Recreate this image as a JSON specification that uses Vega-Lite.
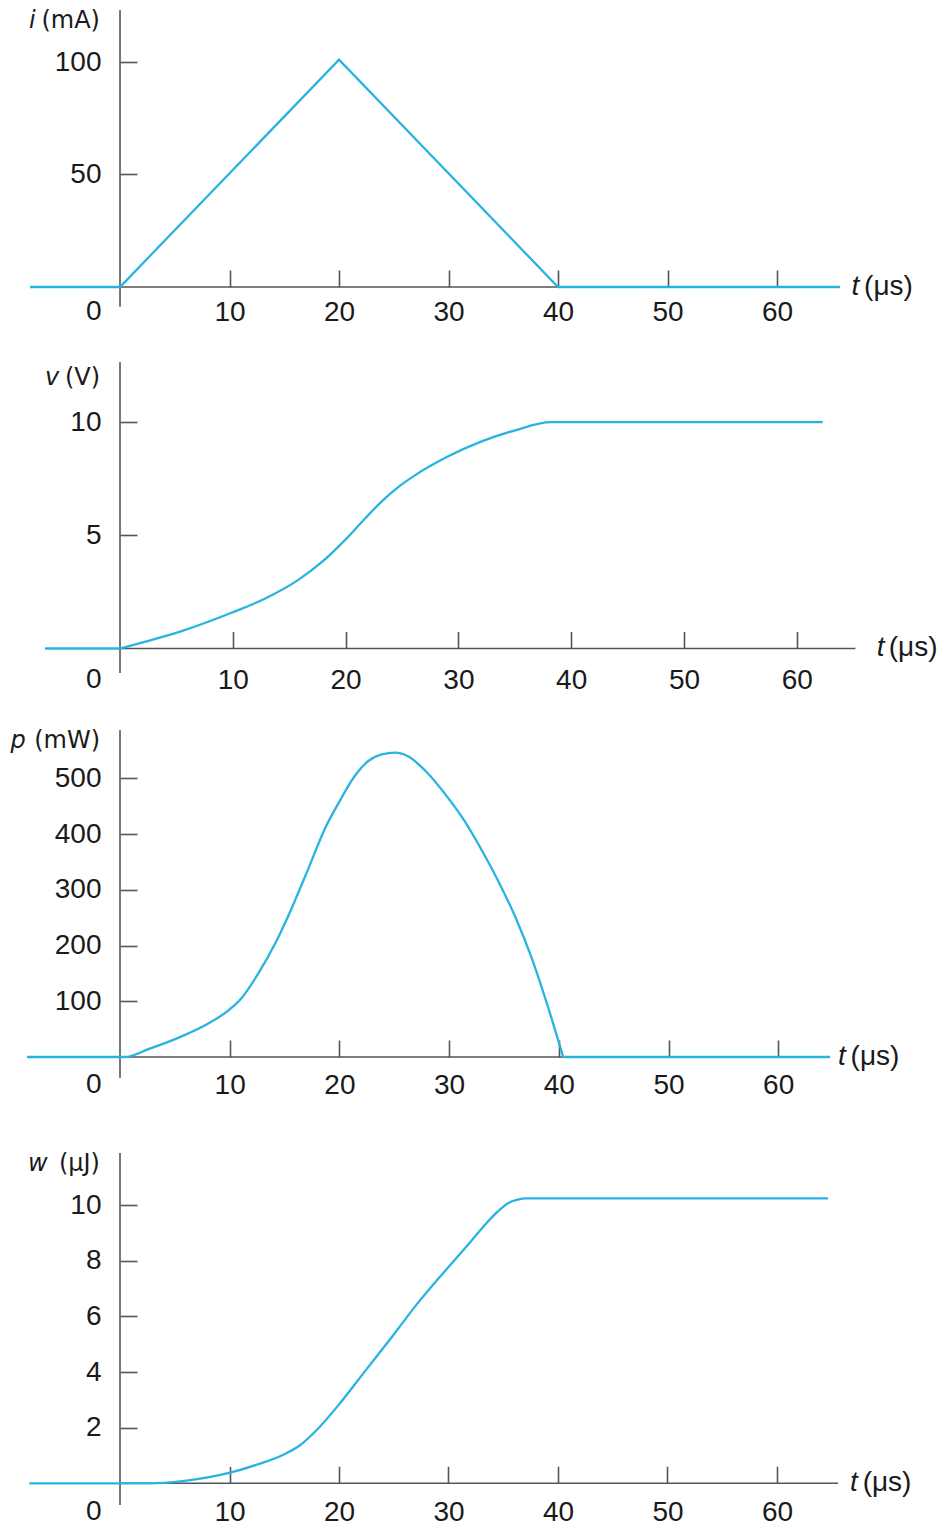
{
  "$schema": "https://vega.github.io/schema/vega-lite/v6.json",
  "padding": 0,
  "spacing": 0,
  "background": "white",
  "config": {
    "view": {"stroke": null},
    "axis": {
      "domain": false,
      "grid": false,
      "ticks": true,
      "tickSize": -17,
      "tickColor": "#555555",
      "tickWidth": 1.6,
      "labelFont": "Liberation Sans",
      "labelFontSize": 28,
      "labelColor": "#1a1a1a",
      "labelFlush": false,
      "labelOverlap": false,
      "labelBound": false
    }
  },
  "datasets": {
    "axes": [
      {"p": 1, "t": 0, "t2": 0, "y": -8.75, "y2": 123.1},
      {"p": 1, "t": 0, "t2": 65.75, "y": 0, "y2": 0},
      {"p": 2, "t": 0, "t2": 0, "y": -1.08, "y2": 12.66},
      {"p": 2, "t": 0, "t2": 65.2, "y": 0, "y2": 0},
      {"p": 3, "t": 0, "t2": 0, "y": -37.7, "y2": 586.6},
      {"p": 3, "t": 0, "t2": 64.72, "y": 0, "y2": 0},
      {"p": 4, "t": 0, "t2": 0, "y": -0.78, "y2": 11.88},
      {"p": 4, "t": 0, "t2": 65.57, "y": 0, "y2": 0}
    ],
    "curves": [
      {"p": 1, "s": "a", "t": -8.22, "y": 0},
      {"p": 1, "s": "a", "t": 0, "y": 0},
      {"p": 1, "s": "a", "t": 20, "y": 101},
      {"p": 1, "s": "a", "t": 40, "y": 0},
      {"p": 1, "s": "a", "t": 65.75, "y": 0},

      {"p": 2, "s": "pre", "t": -6.65, "y": 0},
      {"p": 2, "s": "pre", "t": 0, "y": 0},
      {"p": 2, "s": "main", "t": 0, "y": 0},
      {"p": 2, "s": "main", "t": 2.51, "y": 0.34},
      {"p": 2, "s": "main", "t": 5.46, "y": 0.77},
      {"p": 2, "s": "main", "t": 9.94, "y": 1.59},
      {"p": 2, "s": "main", "t": 12.83, "y": 2.2},
      {"p": 2, "s": "main", "t": 15.78, "y": 3.02},
      {"p": 2, "s": "main", "t": 17.85, "y": 3.8},
      {"p": 2, "s": "main", "t": 19.94, "y": 4.79},
      {"p": 2, "s": "main", "t": 21.68, "y": 5.72},
      {"p": 2, "s": "main", "t": 23.16, "y": 6.48},
      {"p": 2, "s": "main", "t": 24.63, "y": 7.12},
      {"p": 2, "s": "main", "t": 26.11, "y": 7.64},
      {"p": 2, "s": "main", "t": 29.06, "y": 8.48},
      {"p": 2, "s": "main", "t": 32.01, "y": 9.14},
      {"p": 2, "s": "main", "t": 34.96, "y": 9.63},
      {"p": 2, "s": "main", "t": 38.2, "y": 10.0},
      {"p": 2, "s": "main", "t": 62.3, "y": 10.0},

      {"p": 3, "s": "pre", "t": -8.48, "y": 0},
      {"p": 3, "s": "pre", "t": 0, "y": 0},
      {"p": 3, "s": "main", "t": 0, "y": 0},
      {"p": 3, "s": "main", "t": 0.46, "y": 0},
      {"p": 3, "s": "main", "t": 2.58, "y": 14},
      {"p": 3, "s": "main", "t": 5.62, "y": 37},
      {"p": 3, "s": "main", "t": 8.05, "y": 60},
      {"p": 3, "s": "main", "t": 9.97, "y": 85},
      {"p": 3, "s": "main", "t": 11.09, "y": 106},
      {"p": 3, "s": "main", "t": 12.61, "y": 150},
      {"p": 3, "s": "main", "t": 14.13, "y": 203},
      {"p": 3, "s": "main", "t": 15.65, "y": 267},
      {"p": 3, "s": "main", "t": 17.17, "y": 338},
      {"p": 3, "s": "main", "t": 18.69, "y": 410},
      {"p": 3, "s": "main", "t": 19.91, "y": 455},
      {"p": 3, "s": "main", "t": 21.43, "y": 505},
      {"p": 3, "s": "main", "t": 22.64, "y": 531},
      {"p": 3, "s": "main", "t": 23.86, "y": 543},
      {"p": 3, "s": "main", "t": 25.08, "y": 546},
      {"p": 3, "s": "main", "t": 26.29, "y": 539},
      {"p": 3, "s": "main", "t": 27.81, "y": 514},
      {"p": 3, "s": "main", "t": 29.94, "y": 464},
      {"p": 3, "s": "main", "t": 31.46, "y": 422},
      {"p": 3, "s": "main", "t": 32.98, "y": 371},
      {"p": 3, "s": "main", "t": 34.5, "y": 315},
      {"p": 3, "s": "main", "t": 36.02, "y": 252},
      {"p": 3, "s": "main", "t": 37.54, "y": 177},
      {"p": 3, "s": "main", "t": 39.06, "y": 87},
      {"p": 3, "s": "main", "t": 40.4, "y": 0},
      {"p": 3, "s": "post", "t": 40.4, "y": 0},
      {"p": 3, "s": "post", "t": 64.72, "y": 0},

      {"p": 4, "s": "main", "t": -8.28, "y": 0},
      {"p": 4, "s": "main", "t": 2.68, "y": 0},
      {"p": 4, "s": "main", "t": 5.72, "y": 0.08},
      {"p": 4, "s": "main", "t": 10.05, "y": 0.38},
      {"p": 4, "s": "main", "t": 12.42, "y": 0.66},
      {"p": 4, "s": "main", "t": 14.86, "y": 1.02},
      {"p": 4, "s": "main", "t": 16.38, "y": 1.35},
      {"p": 4, "s": "main", "t": 17.9, "y": 1.89},
      {"p": 4, "s": "main", "t": 20.03, "y": 2.85},
      {"p": 4, "s": "main", "t": 22.47, "y": 4.08},
      {"p": 4, "s": "main", "t": 24.9, "y": 5.3},
      {"p": 4, "s": "main", "t": 27.03, "y": 6.4},
      {"p": 4, "s": "main", "t": 29.16, "y": 7.4},
      {"p": 4, "s": "main", "t": 31.6, "y": 8.5},
      {"p": 4, "s": "main", "t": 33.12, "y": 9.2},
      {"p": 4, "s": "main", "t": 34.34, "y": 9.72},
      {"p": 4, "s": "main", "t": 35.56, "y": 10.1},
      {"p": 4, "s": "main", "t": 36.3, "y": 10.2},
      {"p": 4, "s": "main", "t": 37.08, "y": 10.25},
      {"p": 4, "s": "main", "t": 64.66, "y": 10.25}
    ],
    "titles": [
      {"p": 1, "k": "yv", "t": -7.7, "y": 115, "text": "i"},
      {"p": 1, "k": "yu", "t": -1.83, "y": 115, "text": "(mA)"},
      {"p": 1, "k": "xv", "t": 66.8, "y": 0, "text": "t"},
      {"p": 1, "k": "xu", "t": 67.95, "y": 0, "text": "(μs)"},
      {"p": 2, "k": "yv", "t": -5.4, "y": 11.64, "text": "v"},
      {"p": 2, "k": "yu", "t": -1.77, "y": 11.64, "text": "(V)"},
      {"p": 2, "k": "xv", "t": 67.08, "y": 0, "text": "t"},
      {"p": 2, "k": "xu", "t": 68.15, "y": 0, "text": "(μs)"},
      {"p": 3, "k": "yv", "t": -8.6, "y": 554, "text": "p"},
      {"p": 3, "k": "yu", "t": -1.82, "y": 554, "text": "(mW)"},
      {"p": 3, "k": "xv", "t": 65.45, "y": 0, "text": "t"},
      {"p": 3, "k": "xu", "t": 66.6, "y": 0, "text": "(μs)"},
      {"p": 4, "k": "yv", "t": -6.6, "y": 11.23, "text": "w"},
      {"p": 4, "k": "yu", "t": -1.83, "y": 11.23, "text": "(μJ)"},
      {"p": 4, "k": "xv", "t": 66.67, "y": 0, "text": "t"},
      {"p": 4, "k": "xu", "t": 67.82, "y": 0, "text": "(μs)"}
    ]
  },
  "vconcat": [
    {
      "width": 946,
      "height": 340,
      "layer": [
        {
          "data": {"name": "axes"},
          "transform": [{"filter": "datum.p === 1"}],
          "mark": {"type": "rule", "color": "#555555", "strokeWidth": 1.6},
          "encoding": {
            "x": {"field": "t", "type": "quantitative",
              "scale": {"domain": [-10.96, 75.43], "nice": false, "zero": false},
              "axis": {"values": [10, 20, 30, 40, 50, 60], "orient": "bottom", "offset": -53, "labelPadding": 50, "labelBaseline": "alphabetic", "title": null}},
            "x2": {"field": "t2"},
            "y": {"field": "y", "type": "quantitative",
              "scale": {"domain": [-23.56, 127.56], "nice": false, "zero": false},
              "axis": {"values": [0, 50, 100], "orient": "left", "offset": -120, "labelPadding": 36,
                "labelOffset": {"condition": {"test": "datum.value === 0", "value": 24.6}, "value": 0},
                "tickOpacity": {"condition": {"test": "datum.value === 0", "value": 0}, "value": 1},
                "title": null}},
            "y2": {"field": "y2"}
          }
        },
        {
          "data": {"name": "curves"},
          "transform": [{"filter": "datum.p === 1"}],
          "mark": {"type": "line", "color": "#29b3e0", "strokeWidth": 2.3, "interpolate": "linear"},
          "encoding": {
            "x": {"field": "t", "type": "quantitative"},
            "y": {"field": "y", "type": "quantitative"},
            "detail": {"field": "s"}
          }
        },
        {
          "data": {"name": "titles"},
          "transform": [{"filter": "datum.p === 1 && datum.k === 'yv'"}],
          "mark": {"type": "text", "align": "right", "baseline": "alphabetic", "font": "DejaVu Sans", "fontSize": 24, "fontStyle": "italic", "color": "#1a1a1a"},
          "encoding": {"x": {"field": "t", "type": "quantitative"}, "y": {"field": "y", "type": "quantitative"}, "text": {"field": "text"}}
        },
        {
          "data": {"name": "titles"},
          "transform": [{"filter": "datum.p === 1 && datum.k === 'yu'"}],
          "mark": {"type": "text", "align": "right", "baseline": "alphabetic", "font": "DejaVu Sans", "fontSize": 24, "color": "#1a1a1a"},
          "encoding": {"x": {"field": "t", "type": "quantitative"}, "y": {"field": "y", "type": "quantitative"}, "text": {"field": "text"}}
        },
        {
          "data": {"name": "titles"},
          "transform": [{"filter": "datum.p === 1 && datum.k === 'xv'"}],
          "mark": {"type": "text", "align": "left", "baseline": "middle", "font": "Liberation Sans", "fontSize": 28, "fontStyle": "italic", "color": "#1a1a1a"},
          "encoding": {"x": {"field": "t", "type": "quantitative"}, "y": {"field": "y", "type": "quantitative"}, "text": {"field": "text"}}
        },
        {
          "data": {"name": "titles"},
          "transform": [{"filter": "datum.p === 1 && datum.k === 'xu'"}],
          "mark": {"type": "text", "align": "left", "baseline": "middle", "font": "Liberation Sans", "fontSize": 28, "color": "#1a1a1a"},
          "encoding": {"x": {"field": "t", "type": "quantitative"}, "y": {"field": "y", "type": "quantitative"}, "text": {"field": "text"}}
        }
      ]
    },
    {
      "width": 946,
      "height": 365,
      "layer": [
        {
          "data": {"name": "axes"},
          "transform": [{"filter": "datum.p === 2"}],
          "mark": {"type": "rule", "color": "#555555", "strokeWidth": 1.6},
          "encoding": {
            "x": {"field": "t", "type": "quantitative",
              "scale": {"domain": [-10.638, 73.227], "nice": false, "zero": false},
              "axis": {"values": [10, 20, 30, 40, 50, 60], "orient": "bottom", "offset": -56.5, "labelPadding": 56.5, "labelBaseline": "alphabetic", "title": null}},
            "x2": {"field": "t2"},
            "y": {"field": "y", "type": "quantitative",
              "scale": {"domain": [-2.497, 13.632], "nice": false, "zero": false},
              "axis": {"values": [0, 5, 10], "orient": "left", "offset": -120, "labelPadding": 36,
                "labelOffset": {"condition": {"test": "datum.value === 0", "value": 31.1}, "value": 0},
                "tickOpacity": {"condition": {"test": "datum.value === 0", "value": 0}, "value": 1},
                "title": null}},
            "y2": {"field": "y2"}
          }
        },
        {
          "data": {"name": "curves"},
          "transform": [{"filter": "datum.p === 2"}],
          "mark": {"type": "line", "color": "#29b3e0", "strokeWidth": 2.3, "interpolate": "monotone"},
          "encoding": {
            "x": {"field": "t", "type": "quantitative"},
            "y": {"field": "y", "type": "quantitative"},
            "detail": {"field": "s"}
          }
        },
        {
          "data": {"name": "titles"},
          "transform": [{"filter": "datum.p === 2 && datum.k === 'yv'"}],
          "mark": {"type": "text", "align": "right", "baseline": "alphabetic", "font": "DejaVu Sans", "fontSize": 24, "fontStyle": "italic", "color": "#1a1a1a"},
          "encoding": {"x": {"field": "t", "type": "quantitative"}, "y": {"field": "y", "type": "quantitative"}, "text": {"field": "text"}}
        },
        {
          "data": {"name": "titles"},
          "transform": [{"filter": "datum.p === 2 && datum.k === 'yu'"}],
          "mark": {"type": "text", "align": "right", "baseline": "alphabetic", "font": "DejaVu Sans", "fontSize": 24, "color": "#1a1a1a"},
          "encoding": {"x": {"field": "t", "type": "quantitative"}, "y": {"field": "y", "type": "quantitative"}, "text": {"field": "text"}}
        },
        {
          "data": {"name": "titles"},
          "transform": [{"filter": "datum.p === 2 && datum.k === 'xv'"}],
          "mark": {"type": "text", "align": "left", "baseline": "middle", "font": "Liberation Sans", "fontSize": 28, "fontStyle": "italic", "color": "#1a1a1a"},
          "encoding": {"x": {"field": "t", "type": "quantitative"}, "y": {"field": "y", "type": "quantitative"}, "text": {"field": "text"}}
        },
        {
          "data": {"name": "titles"},
          "transform": [{"filter": "datum.p === 2 && datum.k === 'xu'"}],
          "mark": {"type": "text", "align": "left", "baseline": "middle", "font": "Liberation Sans", "fontSize": 28, "color": "#1a1a1a"},
          "encoding": {"x": {"field": "t", "type": "quantitative"}, "y": {"field": "y", "type": "quantitative"}, "text": {"field": "text"}}
        }
      ]
    },
    {
      "width": 946,
      "height": 405,
      "layer": [
        {
          "data": {"name": "axes"},
          "transform": [{"filter": "datum.p === 3"}],
          "mark": {"type": "rule", "color": "#555555", "strokeWidth": 1.6},
          "encoding": {
            "x": {"field": "t", "type": "quantitative",
              "scale": {"domain": [-10.939, 75.296], "nice": false, "zero": false},
              "axis": {"values": [10, 20, 30, 40, 50, 60], "orient": "bottom", "offset": -53, "labelPadding": 53, "labelBaseline": "alphabetic", "title": null}},
            "x2": {"field": "t2"},
            "y": {"field": "y", "type": "quantitative",
              "scale": {"domain": [-95.08, 631.5], "nice": false, "zero": false},
              "axis": {"values": [0, 100, 200, 300, 400, 500], "orient": "left", "offset": -120, "labelPadding": 36,
                "labelOffset": {"condition": {"test": "datum.value === 0", "value": 27.6}, "value": 0},
                "tickOpacity": {"condition": {"test": "datum.value === 0", "value": 0}, "value": 1},
                "title": null}},
            "y2": {"field": "y2"}
          }
        },
        {
          "data": {"name": "curves"},
          "transform": [{"filter": "datum.p === 3"}],
          "mark": {"type": "line", "color": "#29b3e0", "strokeWidth": 2.3, "interpolate": "monotone"},
          "encoding": {
            "x": {"field": "t", "type": "quantitative"},
            "y": {"field": "y", "type": "quantitative"},
            "detail": {"field": "s"}
          }
        },
        {
          "data": {"name": "titles"},
          "transform": [{"filter": "datum.p === 3 && datum.k === 'yv'"}],
          "mark": {"type": "text", "align": "right", "baseline": "alphabetic", "font": "DejaVu Sans", "fontSize": 24, "fontStyle": "italic", "color": "#1a1a1a"},
          "encoding": {"x": {"field": "t", "type": "quantitative"}, "y": {"field": "y", "type": "quantitative"}, "text": {"field": "text"}}
        },
        {
          "data": {"name": "titles"},
          "transform": [{"filter": "datum.p === 3 && datum.k === 'yu'"}],
          "mark": {"type": "text", "align": "right", "baseline": "alphabetic", "font": "DejaVu Sans", "fontSize": 24, "color": "#1a1a1a"},
          "encoding": {"x": {"field": "t", "type": "quantitative"}, "y": {"field": "y", "type": "quantitative"}, "text": {"field": "text"}}
        },
        {
          "data": {"name": "titles"},
          "transform": [{"filter": "datum.p === 3 && datum.k === 'xv'"}],
          "mark": {"type": "text", "align": "left", "baseline": "middle", "font": "Liberation Sans", "fontSize": 28, "fontStyle": "italic", "color": "#1a1a1a"},
          "encoding": {"x": {"field": "t", "type": "quantitative"}, "y": {"field": "y", "type": "quantitative"}, "text": {"field": "text"}}
        },
        {
          "data": {"name": "titles"},
          "transform": [{"filter": "datum.p === 3 && datum.k === 'xu'"}],
          "mark": {"type": "text", "align": "left", "baseline": "middle", "font": "Liberation Sans", "fontSize": 28, "color": "#1a1a1a"},
          "encoding": {"x": {"field": "t", "type": "quantitative"}, "y": {"field": "y", "type": "quantitative"}, "text": {"field": "text"}}
        }
      ]
    },
    {
      "width": 946,
      "height": 416,
      "layer": [
        {
          "data": {"name": "axes"},
          "transform": [{"filter": "datum.p === 4"}],
          "mark": {"type": "rule", "color": "#555555", "strokeWidth": 1.6},
          "encoding": {
            "x": {"field": "t", "type": "quantitative",
              "scale": {"domain": [-10.959, 75.434], "nice": false, "zero": false},
              "axis": {"values": [10, 20, 30, 40, 50, 60], "orient": "bottom", "offset": -42.7, "labelPadding": 53.7, "labelBaseline": "alphabetic", "title": null}},
            "x2": {"field": "t2"},
            "y": {"field": "y", "type": "quantitative",
              "scale": {"domain": [-1.536, 13.428], "nice": false, "zero": false},
              "axis": {"values": [0, 2, 4, 6, 8, 10], "orient": "left", "offset": -120, "labelPadding": 36,
                "labelOffset": {"condition": {"test": "datum.value === 0", "value": 28.3}, "value": 0},
                "tickOpacity": {"condition": {"test": "datum.value === 0", "value": 0}, "value": 1},
                "title": null}},
            "y2": {"field": "y2"}
          }
        },
        {
          "data": {"name": "curves"},
          "transform": [{"filter": "datum.p === 4"}],
          "mark": {"type": "line", "color": "#29b3e0", "strokeWidth": 2.3, "interpolate": "monotone"},
          "encoding": {
            "x": {"field": "t", "type": "quantitative"},
            "y": {"field": "y", "type": "quantitative"},
            "detail": {"field": "s"}
          }
        },
        {
          "data": {"name": "titles"},
          "transform": [{"filter": "datum.p === 4 && datum.k === 'yv'"}],
          "mark": {"type": "text", "align": "right", "baseline": "alphabetic", "font": "DejaVu Sans", "fontSize": 24, "fontStyle": "italic", "color": "#1a1a1a"},
          "encoding": {"x": {"field": "t", "type": "quantitative"}, "y": {"field": "y", "type": "quantitative"}, "text": {"field": "text"}}
        },
        {
          "data": {"name": "titles"},
          "transform": [{"filter": "datum.p === 4 && datum.k === 'yu'"}],
          "mark": {"type": "text", "align": "right", "baseline": "alphabetic", "font": "DejaVu Sans", "fontSize": 24, "color": "#1a1a1a"},
          "encoding": {"x": {"field": "t", "type": "quantitative"}, "y": {"field": "y", "type": "quantitative"}, "text": {"field": "text"}}
        },
        {
          "data": {"name": "titles"},
          "transform": [{"filter": "datum.p === 4 && datum.k === 'xv'"}],
          "mark": {"type": "text", "align": "left", "baseline": "middle", "font": "Liberation Sans", "fontSize": 28, "fontStyle": "italic", "color": "#1a1a1a"},
          "encoding": {"x": {"field": "t", "type": "quantitative"}, "y": {"field": "y", "type": "quantitative"}, "text": {"field": "text"}}
        },
        {
          "data": {"name": "titles"},
          "transform": [{"filter": "datum.p === 4 && datum.k === 'xu'"}],
          "mark": {"type": "text", "align": "left", "baseline": "middle", "font": "Liberation Sans", "fontSize": 28, "color": "#1a1a1a"},
          "encoding": {"x": {"field": "t", "type": "quantitative"}, "y": {"field": "y", "type": "quantitative"}, "text": {"field": "text"}}
        }
      ]
    }
  ]
}
